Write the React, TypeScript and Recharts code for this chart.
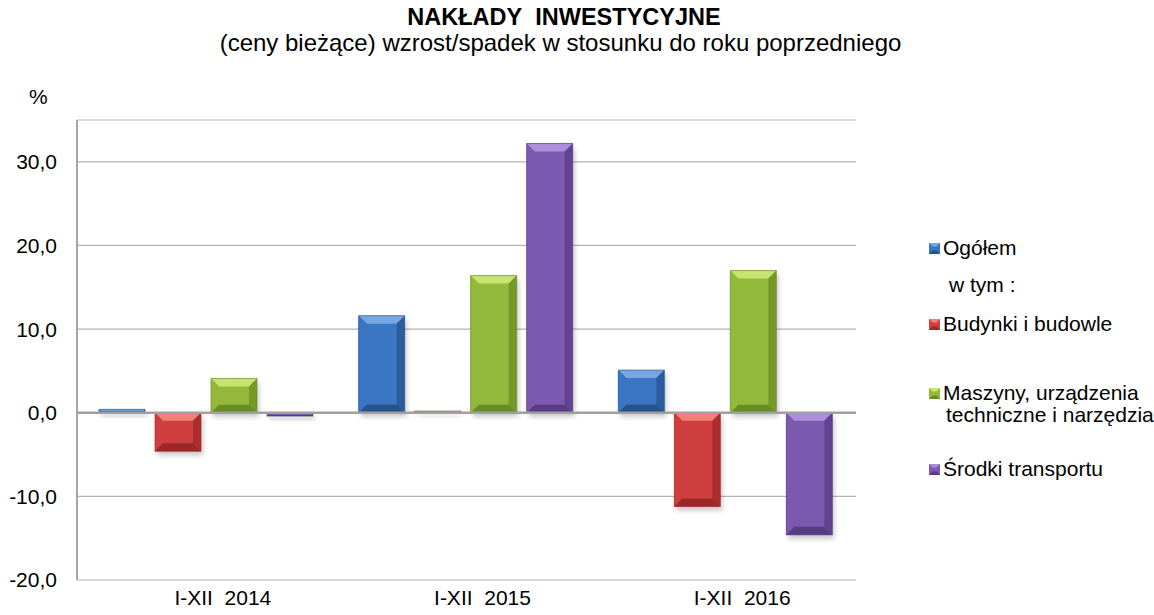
import React from "react"
import { BarChart, Bar, XAxis, YAxis, CartesianGrid, ReferenceLine } from "recharts"

const categories = ["I-XII  2014", "I-XII  2015", "I-XII  2016"]
const ogolem = [0.4, 11.6, 5.1]
const budynki = [-4.6, 0.2, -11.2]
const maszyny = [4.1, 16.4, 17.0]
const srodki = [-0.4, 32.2, -14.6]
const yTicks = [-20, -10, 0, 10, 20, 30]

const data = categories.map((name, i) => ({
  name,
  ogolem: ogolem[i],
  budynki: budynki[i],
  maszyny: maszyny[i],
  srodki: srodki[i],
}))

type Pal = { main: string; light: string; dark: string }

const series: { key: string; label: string[]; pal: Pal }[] = [
  { key: "ogolem", label: ["Ogółem"], pal: { main: "#3B76C3", light: "#78A6E2", dark: "#25528D" } },
  { key: "budynki", label: ["Budynki i budowle"], pal: { main: "#D03F3F", light: "#F08078", dark: "#9A2828" } },
  { key: "maszyny", label: ["Maszyny, urządzenia", "techniczne i narzędzia"], pal: { main: "#93B93B", light: "#C8E470", dark: "#6A8A22" } },
  { key: "srodki", label: ["Środki transportu"], pal: { main: "#7B59AF", light: "#AB8EDC", dark: "#573B84" } },
]

const FONT = "'Liberation Sans', Arial, sans-serif"

function BevelBar(props: any) {
  const pal: Pal = props.pal
  let { x, y, width: w, height: h } = props
  if (h < 0) {
    y += h
    h = -h
  }
  if (!w || h === undefined) return null
  const b = Math.min(8, w / 2, h / 2)
  return (
    <g>
      <rect x={x + 2} y={y + 4} width={w} height={h} fill="#000" opacity={0.22} filter="url(#shadowBlur)" />
      <rect x={x} y={y} width={w} height={h} fill={pal.main} />
      <polygon points={`${x},${y} ${x + w},${y} ${x + w - b},${y + b} ${x + b},${y + b}`} fill={pal.light} />
      <polygon points={`${x},${y} ${x + b},${y + b} ${x + b},${y + h - b} ${x},${y + h}`} fill={pal.main} opacity={0.85} />
      <polygon points={`${x + w},${y} ${x + w - b},${y + b} ${x + w - b},${y + h - b} ${x + w},${y + h}`} fill={pal.dark} opacity={0.7} />
      <polygon points={`${x},${y + h} ${x + b},${y + h - b} ${x + w - b},${y + h - b} ${x + w},${y + h}`} fill={pal.dark} />
      <rect x={x} y={y} width={w} height={h} fill="none" stroke={pal.dark} strokeWidth={1} strokeOpacity={0.6} />
    </g>
  )
}

function CatTick(props: any) {
  const { x, y, payload } = props
  return (
    <text x={x} y={y} dx={16} dy={17} textAnchor="middle" fontSize={21} fontFamily={FONT} fill="#000" style={{ whiteSpace: "pre" }}>
      {payload.value}
    </text>
  )
}

function Marker({ pal }: { pal: Pal }) {
  return (
    <svg width={11} height={11} style={{ position: "absolute", left: 2, top: 6 }}>
      <rect x={0} y={0} width={11} height={11} fill={pal.main} />
      <polygon points="0,0 11,0 7.5,3.5 3.5,3.5" fill={pal.light} />
      <polygon points="0,11 3.5,7.5 7.5,7.5 11,11" fill={pal.dark} />
    </svg>
  )
}

const legendTops = [237, 313, 382, 458]

export default function App() {
  return (
    <div style={{ position: "absolute", left: 0, top: 0, width: 1154, height: 615, background: "#fff", fontFamily: FONT }}>
      <div style={{ position: "absolute", left: 0, width: 1128, top: 4, textAlign: "center", fontWeight: "bold", fontSize: 23.5 }}>
        NAKŁADY&nbsp; INWESTYCYJNE
      </div>
      <div style={{ position: "absolute", left: 0, width: 1121, top: 29, textAlign: "center", fontSize: 24 }}>
        (ceny bieżące) wzrost/spadek w stosunku do roku poprzedniego
      </div>
      <div style={{ position: "absolute", left: 29, top: 85, fontSize: 21 }}>%</div>

      <BarChart
        width={1154}
        height={615}
        data={data}
        margin={{ top: 120, right: 298, bottom: 0, left: 0 }}
        barCategoryGap={22}
        barGap={10}
      >
        <defs>
          <filter id="shadowBlur" x="-20%" y="-20%" width="140%" height="140%">
            <feGaussianBlur stdDeviation="2.5" />
          </filter>
        </defs>
        <CartesianGrid vertical={false} stroke="#B4B4B4" strokeWidth={1.2} />
        <XAxis dataKey="name" axisLine={false} tickLine={false} height={35} tick={<CatTick />} interval={0} />
        <YAxis
          width={77}
          domain={[-20, 35]}
          ticks={yTicks}
          interval={0}
          tickFormatter={(v: number) => v.toFixed(1).replace(".", ",")}
          axisLine={{ stroke: "#A6A6A6", strokeWidth: 2 }}
          tickLine={false}
          tickSize={0}
          tickMargin={20}
          tick={{ fontSize: 21, fill: "#000", fontFamily: FONT }}
        />
        <ReferenceLine y={0} stroke="#A0A0A0" strokeWidth={2.5} />
        {series.map((s) => (
          <Bar
            key={s.key}
            dataKey={s.key}
            isAnimationActive={false}
            shape={(p: any) => <BevelBar {...p} pal={s.pal} />}
          />
        ))}
      </BarChart>

      {series.map((s, i) => (
        <div key={s.key} style={{ position: "absolute", left: 927, top: legendTops[i], fontSize: 21, lineHeight: "22px" }}>
          <Marker pal={s.pal} />
          <div style={{ paddingLeft: 16 }}>
            {s.label.map((l, j) => (
              <div key={j} style={{ paddingLeft: j > 0 ? 3 : 0 }}>{l}</div>
            ))}
          </div>
        </div>
      ))}
      <div style={{ position: "absolute", left: 949, top: 274, fontSize: 21, lineHeight: "22px" }}>w tym :</div>
    </div>
  )
}
